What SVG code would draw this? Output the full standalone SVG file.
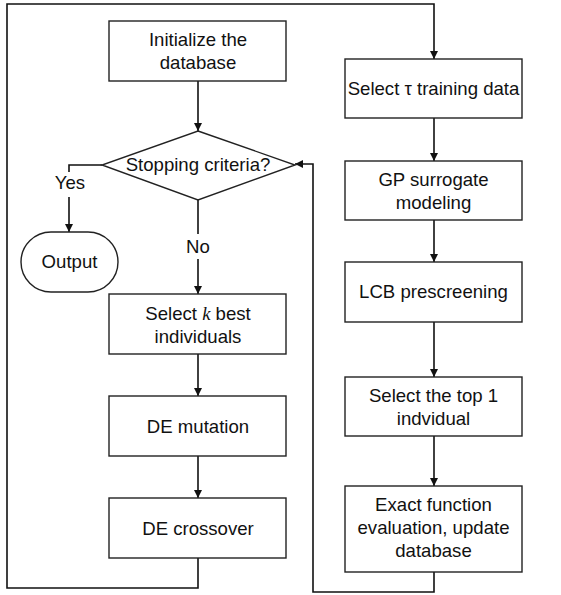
<svg xmlns="http://www.w3.org/2000/svg" width="561" height="595" viewBox="0 0 561 595">
<style>
.b{fill:#fff;stroke:#222;stroke-width:1.4}
.t{font-family:"Liberation Sans",Arial,sans-serif;font-size:18.6px;fill:#111;text-anchor:middle}
.c{fill:none;stroke:#111;stroke-width:1.6}
</style>
<defs>
<marker id="a" viewBox="0 0 10 10" refX="10" refY="5" markerWidth="9" markerHeight="8" markerUnits="userSpaceOnUse" orient="auto">
<path d="M0,0 L10,5 L0,10 z" fill="#111"/>
</marker>
</defs>
<rect width="561" height="595" fill="#fff"/>
<g id="connectors">
<path class="c" d="M198,81 V131" marker-end="url(#a)"/>
<path class="c" d="M102,165 H69 V172"/>
<path class="c" d="M69,197 V232" marker-end="url(#a)"/>
<path class="c" d="M198,200 V234"/>
<path class="c" d="M198,259 V294" marker-end="url(#a)"/>
<path class="c" d="M198,354 V396" marker-end="url(#a)"/>
<path class="c" d="M198,456 V498" marker-end="url(#a)"/>
<path class="c" d="M198,558 V588 H7 V4 H434 V59" marker-end="url(#a)"/>
<path class="c" d="M434,118 V161" marker-end="url(#a)"/>
<path class="c" d="M434,220 V262" marker-end="url(#a)"/>
<path class="c" d="M434,322 V377" marker-end="url(#a)"/>
<path class="c" d="M434,436 V486" marker-end="url(#a)"/>
<path class="c" d="M434,572 V592 H313 V164 H295" marker-end="url(#a)"/>
<text class="t" x="70" y="189">Yes</text>
<text class="t" x="198" y="253">No</text>
</g>
<g id="init">
<rect class="b" x="109" y="21" width="177" height="60"/>
<text class="t" x="198" y="46">Initialize the</text>
<text class="t" x="198" y="69">database</text>
</g>
<g id="stop">
<polygon class="b" points="198,131 295,165 198,200 102,165"/>
<text class="t" x="198" y="171">Stopping criteria?</text>
</g>
<g id="output">
<rect class="b" x="21" y="232" width="97" height="60" rx="30" ry="30"/>
<text class="t" x="69.5" y="268">Output</text>
</g>
<g id="selectk">
<rect class="b" x="109" y="294" width="177" height="60"/>
<text class="t" x="198" y="320">Select <tspan font-family="'Liberation Serif',serif" font-style="italic">k</tspan> best</text>
<text class="t" x="198" y="343">individuals</text>
</g>
<g id="mutation">
<rect class="b" x="109" y="396" width="177" height="60"/>
<text class="t" x="198" y="433">DE mutation</text>
</g>
<g id="crossover">
<rect class="b" x="109" y="498" width="177" height="60"/>
<text class="t" x="198" y="535">DE crossover</text>
</g>
<g id="selecttau">
<rect class="b" x="345" y="59" width="177" height="59"/>
<text class="t" x="433.5" y="95">Select τ training data</text>
</g>
<g id="gp">
<rect class="b" x="345" y="161" width="177" height="59"/>
<text class="t" x="433.5" y="186">GP surrogate</text>
<text class="t" x="433.5" y="209">modeling</text>
</g>
<g id="lcb">
<rect class="b" x="345" y="262" width="177" height="60"/>
<text class="t" x="433.5" y="298">LCB prescreening</text>
</g>
<g id="top1">
<rect class="b" x="345" y="377" width="177" height="59"/>
<text class="t" x="433.5" y="402">Select the top 1</text>
<text class="t" x="433.5" y="425">indvidual</text>
</g>
<g id="exact">
<rect class="b" x="345" y="486" width="177" height="86"/>
<text class="t" x="433.5" y="511">Exact function</text>
<text class="t" x="433.5" y="534">evaluation, update</text>
<text class="t" x="433.5" y="557">database</text>
</g>
</svg>
